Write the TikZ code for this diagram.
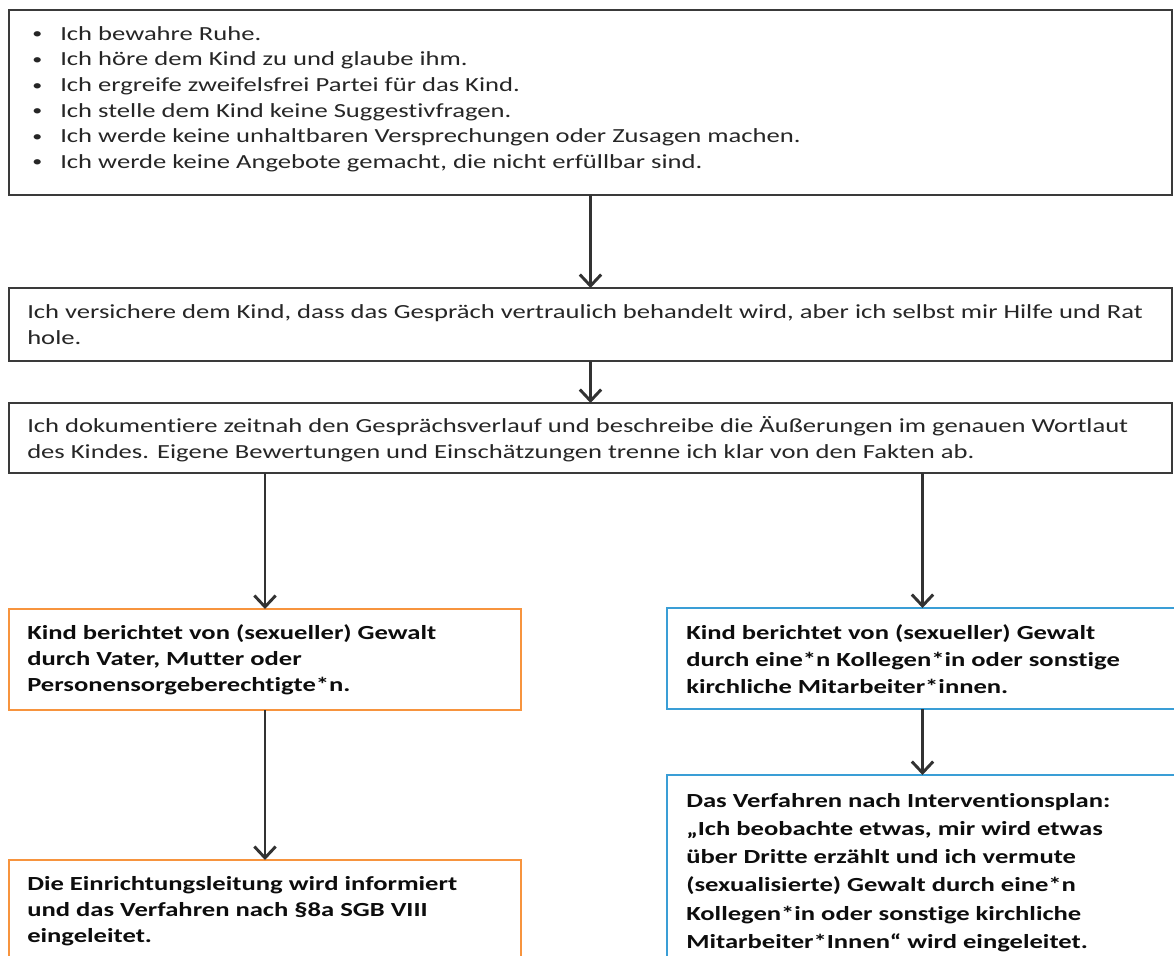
\documentclass[tikz,border=0pt]{standalone}
\usepackage{fontspec}
\setmainfont{Carlito}[FakeStretch=1.33, Ligatures={NoCommon}]
\usetikzlibrary{arrows.meta}
\newdimen\pxu \pxu=0.75pt
\definecolor{boxgray}{RGB}{58,58,58}
\definecolor{orangeb}{RGB}{247,148,62}
\definecolor{blueb}{RGB}{58,158,214}
\definecolor{arrgray}{RGB}{50,50,50}
\newcommand{\bul}{\makebox[28\pxu][l]{\raisebox{0.15ex}{\scalebox{0.75}{\textbullet}}}}
\tikzset{
  frame/.style={draw=boxgray, line width=2pt, anchor=north west, inner sep=0pt, outer sep=0pt},
  obox/.style={frame, draw=orangeb, line width=1.8pt},
  ubox/.style={frame, draw=blueb, line width=1.8pt},
  txt/.style={anchor=north west, inner sep=0pt, align=left, text=black!85},
  btxt/.style={anchor=north west, inner sep=0pt, align=left, text=black!95},
  conn/.style={draw=arrgray, line width=2.2pt, -{Straight Barb[length=8.5pt,width=16pt]}},
}
\begin{document}
\begin{tikzpicture}[x=0.75pt,y=-0.75pt]
\useasboundingbox (0,0) rectangle (1174,956);
\fill[white] (0,0) rectangle (1174,956);
\clip (0,0) rectangle (1174,956);

% boxes
\node[frame, minimum width=1163\pxu, minimum height=185\pxu] (b1) at (9,10) {};
\node[frame, minimum width=1163\pxu, minimum height=73\pxu] (b2) at (9,288) {};
\node[frame, minimum width=1163\pxu, minimum height=70\pxu] (b3) at (9,403) {};
\node[obox, minimum width=512\pxu, minimum height=101\pxu] (o1) at (9,609) {};
\node[ubox, minimum width=511\pxu, minimum height=101\pxu] (u1) at (667,608) {};
\node[obox, minimum width=512\pxu, minimum height=140\pxu] (o2) at (9,860) {};
\node[ubox, minimum width=511\pxu, minimum height=225\pxu] (u2) at (667,775) {};

% texts
\node[txt, font=\fontsize{15pt}{19.2pt}\selectfont] (t1) at (32,22.1) {%
\strut\bul Ich bewahre Ruhe.\\
\strut\bul Ich höre dem Kind zu und glaube ihm.\\
\strut\bul Ich ergreife zweifelsfrei Partei für das Kind.\\
\strut\bul Ich stelle dem Kind keine Suggestivfragen.\\
\strut\bul Ich werde keine unhaltbaren Versprechungen oder Zusagen machen.\\
\strut\bul Ich werde keine Angebote gemacht, die nicht erfüllbar sind.};

\node[txt, font=\fontsize{15pt}{19.5pt}\selectfont] (t2) at (27,299.8) {%
\strut Ich versichere dem Kind, dass das Gespräch vertraulich behandelt wird, aber ich selbst mir Hilfe und Rat\\
\strut hole.};

\node[txt, font=\fontsize{15pt}{19.5pt}\selectfont] (t3) at (27,413.8) {%
\strut Ich dokumentiere zeitnah den Gesprächsverlauf und beschreibe die Äußerungen im genauen Wortlaut\\
\strut des Kindes. Eigene Bewertungen und Einschätzungen trenne ich klar von den Fakten ab.};

\node[btxt, font=\fontsize{15pt}{19.5pt}\selectfont\bfseries] (t4) at (27,620.8) {%
\strut Kind berichtet von (sexueller) Gewalt\\
\strut durch Vater, Mutter oder\\
\strut Personensorgeberechtigte*n.};

\node[btxt, font=\fontsize{15pt}{20.25pt}\selectfont\bfseries] (t5) at (686,620.1) {%
\strut Kind berichtet von (sexueller) Gewalt\\
\strut durch eine*n Kollegen*in oder sonstige\\
\strut kirchliche Mitarbeiter*innen.};

\node[btxt, font=\fontsize{15pt}{19.5pt}\selectfont\bfseries] (t6) at (27,871.8) {%
\strut Die Einrichtungsleitung wird informiert\\
\strut und das Verfahren nach §8a SGB VIII\\
\strut eingeleitet.};

\node[btxt, font=\fontsize{15pt}{21.15pt}\selectfont\bfseries] (t7) at (686,787.3) {%
\strut Das Verfahren nach Interventionsplan:\\
\strut „Ich beobachte etwas, mir wird etwas\\
\strut über Dritte erzählt und ich vermute\\
\strut (sexualisierte) Gewalt durch eine*n\\
\strut Kollegen*in oder sonstige kirchliche\\
\strut Mitarbeiter*Innen“ wird eingeleitet.};

% connectors
\draw[conn] (b1.south) -- (b2.north);
\draw[conn] (b2.south) -- (b3.north);
\draw[conn] (b3.south -| o1.north) -- (o1.north);
\draw[conn] (b3.south -| u1.north) -- (u1.north);
\draw[conn] (o1.south) -- (o2.north);
\draw[conn] (u1.south) -- (u2.north);
\end{tikzpicture}
\end{document}
